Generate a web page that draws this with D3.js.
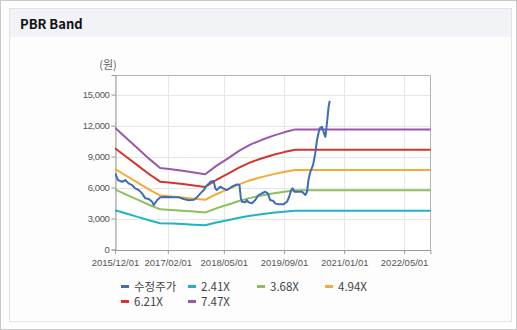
<!DOCTYPE html>
<html><head><meta charset="utf-8">
<script src="https://cdn.jsdelivr.net/npm/d3@7"></script>
<style>
body{margin:0;background:#fff;}
svg{display:block;font-family:"Liberation Sans",Arial,sans-serif;}
</style>
</head><body>
<svg id="c" width="517" height="330"></svg>
<script>
// ---------- data ----------
const titleText = "PBR Band";
const unitLabel = "(원)";
const xTickDates = ["2015-12-01","2017-02-01","2018-05-01","2019-09-01","2021-01-01","2022-05-01"];
const xTickLabels = ["2015/12/01","2017/02/01","2018/05/01","2019/09/01","2021/01/01","2022/05/01"];
const yTickValues = [0,3000,6000,9000,12000,15000];
const seriesNames = ["수정주가","2.41X","3.68X","4.94X","6.21X","7.47X"];

const priceDates = ["2015-12-03","2015-12-25","2016-01-27","2016-02-23","2016-03-20","2016-04-17","2016-05-13","2016-06-10","2016-07-07","2016-08-03","2016-08-31","2016-09-27","2016-10-11","2016-11-07","2016-12-03","2017-01-13","2017-03-21","2017-05-01","2017-06-10","2017-07-20","2017-08-31","2017-09-27","2017-10-23","2017-11-20","2017-12-11","2018-01-01","2018-01-11","2018-02-07","2018-02-21","2018-03-05","2018-04-01","2018-04-27","2018-05-25","2018-07-05","2018-08-15","2018-09-05","2018-09-16","2018-09-25","2018-10-21","2018-11-04","2018-11-17","2018-12-15","2019-01-11","2019-02-07","2019-03-05","2019-04-01","2019-04-23","2019-05-11","2019-06-07","2019-06-21","2019-07-17","2019-08-27","2019-09-25","2019-10-13","2019-10-29","2019-11-09","2019-11-25","2019-12-23","2020-01-25","2020-02-21","2020-03-05","2020-03-17","2020-04-01","2020-04-23","2020-05-11","2020-05-25","2020-06-15","2020-07-05","2020-07-17","2020-08-01","2020-08-09","2020-08-19","2020-08-27","2020-09-05"];
const priceValues = [7374,6726,6561,6726,6406,6242,5922,5758,5437,4955,4887,4626,4306,4790,5051,5080,5051,5051,4887,4761,4819,5080,5437,5758,6174,6400,6561,6629,5922,5758,6077,5922,5758,6077,6309,6242,4955,4626,4568,4790,4568,4471,4790,5274,5437,5593,5437,4790,4693,4471,4374,4374,4626,5109,5758,5922,5593,5593,5593,5274,5593,6726,7529,8177,9309,10597,11729,11884,11400,10916,11729,12852,13820,14400];

const bandDates = ["2015-12-01","2016-03-01","2016-06-01","2016-09-01","2016-12-01","2017-03-01","2017-06-01","2017-09-01","2017-12-01","2018-03-01","2018-06-01","2018-09-01","2018-12-01","2019-03-01","2019-06-01","2019-09-01","2019-12-01","2022-12-01"];
const band241 = [3808,3485,3162,2839,2550,2509,2458,2403,2350,2612,2839,3080,3275,3420,3550,3661,3752,3752];
const band368 = [5814,5321,4828,4335,3893,3831,3754,3669,3588,3989,4335,4703,5001,5222,5421,5590,5730,5730];
const band494 = [7805,7143,6481,5819,5227,5143,5039,4925,4817,5355,5819,6313,6713,7010,7277,7504,7692,7692];
const band621 = [9812,8980,8148,7315,6570,6465,6334,6191,6055,6732,7315,7936,8439,8812,9147,9433,9669,9669];
const band747 = [11803,10802,9801,8800,7903,7776,7619,7448,7283,8097,8800,9547,10152,10600,11003,11347,11631,11631];

const seriesColors = ["#3d6eb4","#1fb3c6","#8dbf5c","#f5aa35","#d3342d","#9b56ad"];

// ---------- chart ----------
const parse = d3.timeParse("%Y-%m-%d");
const svg = d3.select("#c");

// frame
svg.append("rect").attr("x",0.5).attr("y",0.5).attr("width",516).attr("height",329)
  .attr("fill","#fff").attr("stroke","#c9c9c9");
svg.append("rect").attr("x",9.5).attr("y",8.5).attr("width",502).attr("height",313)
  .attr("fill","#fdfdfd").attr("stroke","#e2e2e2");
svg.append("rect").attr("x",10).attr("y",9).attr("width",501).attr("height",28)
  .attr("fill","#f1f3f6");
svg.append("text").attr("x",20).attr("y",29).attr("font-size",13).attr("font-weight","bold")
  .attr("fill","#111").attr("font-family","'Noto Sans CJK KR','Liberation Sans',sans-serif")
  .text(titleText);

const x = d3.scaleTime().domain([parse("2015-12-01"), parse("2022-12-01")]).range([115, 430.5]);
const y = d3.scaleLinear().domain([0, 16900]).range([249.5, 75]);

// plot background and grid
svg.append("rect").attr("x",115).attr("y",75).attr("width",315.5).attr("height",174.5).attr("fill","#fff");
const g = svg.append("g");
g.selectAll(".gx").data(xTickDates).join("line")
  .attr("x1",d=>Math.round(x(parse(d)))+0.5).attr("x2",d=>Math.round(x(parse(d)))+0.5)
  .attr("y1",75).attr("y2",249.5).attr("stroke","#e6e6e6");
g.selectAll(".gy").data(yTickValues).join("line")
  .attr("x1",115).attr("x2",430.5)
  .attr("y1",d=>Math.round(y(d))+0.5).attr("y2",d=>Math.round(y(d))+0.5).attr("stroke","#e6e6e6");
// top & right border
svg.append("path").attr("d","M115,75.5H430.5V249.5").attr("fill","none").attr("stroke","#b4b4b4");

// axes
const xAxis = d3.axisBottom(x).tickValues(xTickDates.map(parse))
  .tickFormat((d,i)=>xTickLabels[i]).tickSizeOuter(0).tickSize(4);
const ax = svg.append("g").attr("transform","translate(0,250)").call(xAxis);
ax.select(".domain").attr("stroke","#999");
ax.selectAll(".tick line").attr("stroke","#999");
ax.selectAll("text").attr("fill","#555").attr("font-size",9.5).attr("dy","0.95em")
  .attr("font-family","'Liberation Sans',Arial,sans-serif");

const yAxis = d3.axisLeft(y).tickValues(yTickValues).tickFormat(d3.format(",")).tickSizeOuter(0).tickSize(4);
const ay = svg.append("g").attr("transform","translate(115.5,0)").call(yAxis);
ay.select(".domain").attr("stroke","#999");
ay.selectAll(".tick line").attr("stroke","#999");
ay.selectAll("text").attr("fill","#555").attr("font-size",9.5).attr("x",-6).attr("letter-spacing","-0.4px")
  .attr("font-family","'Liberation Sans',Arial,sans-serif");

svg.append("text").attr("x",108).attr("y",69).attr("text-anchor","middle").attr("font-size",11)
  .attr("fill","#666").attr("font-family","'Noto Sans CJK KR',sans-serif").text(unitLabel);

// lines
const line = d3.line().x(d=>x(d[0])).y(d=>y(d[1]));
const bands = [band241, band368, band494, band621, band747];
const clip = svg.append("defs").append("clipPath").attr("id","pc").append("rect")
  .attr("x",115).attr("y",70).attr("width",316).attr("height",182);
const lg = svg.append("g").attr("clip-path","url(#pc)");
bands.forEach((b,i)=>{
  lg.append("path").datum(bandDates.map((d,j)=>[parse(d), b[j]]))
    .attr("d",line).attr("fill","none").attr("stroke",seriesColors[i+1])
    .attr("stroke-width",2).attr("stroke-linejoin","round");
});
lg.append("path").datum(priceDates.map((d,j)=>[parse(d), priceValues[j]]))
  .attr("d",line).attr("fill","none").attr("stroke",seriesColors[0])
  .attr("stroke-width",2).attr("stroke-linejoin","round");

// legend
const legX = [121,188,257,325];
const legend = svg.append("g");
seriesNames.forEach((n,i)=>{
  const row = Math.floor(i/4), col = i%4;
  const lx = legX[col], ly = row===0 ? 286.5 : 301.5;
  legend.append("line").attr("x1",lx).attr("x2",lx+8).attr("y1",ly).attr("y2",ly)
    .attr("stroke",seriesColors[i]).attr("stroke-width",3);
  legend.append("text").attr("x",lx+13).attr("y",ly+4).attr("font-size",11.5).attr("fill","#444")
    .attr("font-family","'Noto Sans CJK KR','Liberation Sans',sans-serif").text(n);
});
</script>
</body></html>
